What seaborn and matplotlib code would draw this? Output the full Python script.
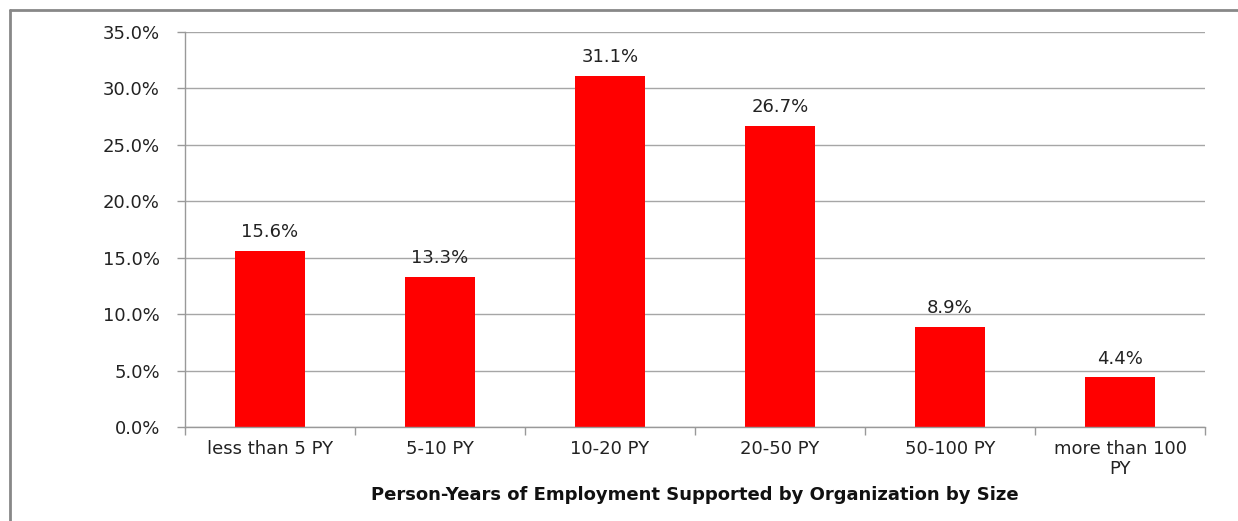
import numpy as np
import pandas as pd
import matplotlib
matplotlib.use("Agg")
import matplotlib.pyplot as plt
from matplotlib.lines import Line2D
from matplotlib.ticker import FuncFormatter, FixedLocator
import seaborn as sns

categories = ["less than 5 PY", "5-10 PY", "10-20 PY", "20-50 PY", "50-100 PY", "more than 100\nPY"]
shares = [15.6, 13.3, 31.1, 26.7, 8.9, 4.4]
y_ticks = [0, 5, 10, 15, 20, 25, 30, 35]
x_title = "Person-Years of Employment Supported by Organization by Size"

sns.set_style("white")
plt.rcParams["font.family"] = ["DejaVu Sans"]

W, H = 1238, 521
fig = plt.figure(figsize=(W / 100, H / 100), dpi=100)
ax = fig.add_axes([185 / W, 1 - 427 / H, (1205 - 185) / W, (427 - 32) / H])

df = pd.DataFrame({"size": categories, "share": shares})
sns.barplot(data=df, x="size", y="share", color="#ff0000", saturation=1,
            width=0.41, linewidth=0, ax=ax)

ax.set_ylim(0, 35)
ax.set_xlim(-0.5, len(categories) - 0.5)
ax.set_yticks(y_ticks)
ax.yaxis.set_major_formatter(FuncFormatter(lambda v, p: f"{v:.1f}%"))
ax.grid(axis="y", color="#a6a6a6", linewidth=1)
ax.set_axisbelow(True)

for s in ["top", "right"]:
    ax.spines[s].set_visible(False)
for s in ["left", "bottom"]:
    ax.spines[s].set_color("#999999")
    ax.spines[s].set_linewidth(1)

ax.tick_params(axis="y", length=6, width=1, color="#999999", direction="out",
               labelsize=13, labelcolor="#222222", pad=12, left=True)
ax.tick_params(axis="x", which="major", length=0, labelsize=13,
               labelcolor="#222222", pad=9)
ax.xaxis.set_minor_locator(FixedLocator(np.arange(-0.5, len(categories), 1.0)))
ax.tick_params(axis="x", which="minor", length=6, width=1, color="#999999",
               direction="out", bottom=True)
for lab in ax.get_xticklabels():
    lab.set_linespacing(1.15)

ax.set_ylabel("")
ax.set_xlabel(x_title, fontsize=13, fontweight="bold", color="#111111", labelpad=6)

for i, v in enumerate(shares):
    ax.annotate(f"{v:.1f}%", (i, v), xytext=(0, 7), textcoords="offset points",
                ha="center", va="bottom", fontsize=13, color="#222222")

# outer frame of the chart box
fig.add_artist(Line2D([10 / W, 1], [1 - 10 / H, 1 - 10 / H], transform=fig.transFigure,
                      color="#888888", linewidth=2))
fig.add_artist(Line2D([10 / W, 10 / W], [0, 1 - 10 / H], transform=fig.transFigure,
                      color="#888888", linewidth=2))

fig.savefig("out.png", dpi=100)
